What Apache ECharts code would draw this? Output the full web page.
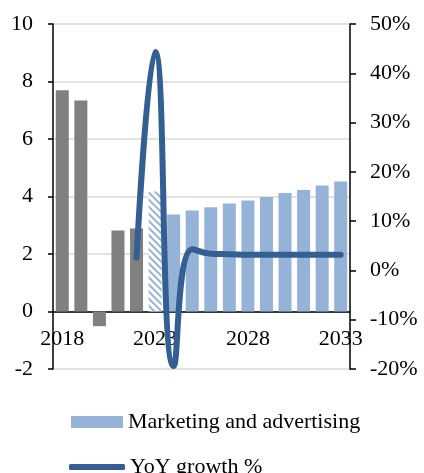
<!DOCTYPE html>
<html><head><meta charset="utf-8">
<script src="https://cdn.jsdelivr.net/npm/echarts@6/dist/echarts.min.js"></script>
<style>html,body{margin:0;padding:0;background:#fff}#c{width:424px;height:473px}</style>
</head><body><div id="c"></div>
<script>
var years = ['2018','2019','2020','2021','2022','2023','2024','2025','2026','2027','2028','2029','2030','2031','2032','2033'];
var marketing = [7.70, 7.34, -0.51, 2.82, 2.89, 4.17, 3.37, 3.51, 3.63, 3.76, 3.86, 3.98, 4.12, 4.23, 4.38, 4.52];
var yoyGrowth = [null, null, null, null, 2.6, 44.3, -19.4, 4.3, 3.4, 3.3, 3.2, 3.2, 3.2, 3.2, 3.2, 3.2];
var historicalCount = 5;   // grey bars
var hatchedIndex = 5;      // estimate year

var FONT = 'Liberation Serif';
var BLUE = '#95B3D7', GREY = '#808080', LINE = '#335F92';

var barData = marketing.map(function (v, i) {
  if (i < historicalCount) return { value: v, itemStyle: { color: GREY } };
  if (i === hatchedIndex) return { value: v, itemStyle: { color: '#ffffff',
    decal: { symbol: 'rect', symbolSize: 1, dashArrayX: [1, 0], dashArrayY: [2, 2.5], rotation: Math.PI / 4, color: BLUE } } };
  return v;
});

var chart = echarts.init(document.getElementById('c'), null, { renderer: 'canvas' });
chart.setOption({
  animation: false,
  textStyle: { fontFamily: FONT },
  grid: { left: 53, right: 74, top: 24, bottom: 104, containLabel: false },
  legend: [{
    left: 66, top: 406, itemWidth: 52, itemHeight: 12, itemGap: 4,
    textStyle: { fontFamily: FONT, fontSize: 22, color: '#000' },
    data: [{ name: 'Marketing and advertising', icon: 'rect' }]
  }, {
    left: 64, top: 451, itemWidth: 56, itemHeight: 6,
    textStyle: { fontFamily: FONT, fontSize: 22, color: '#000' },
    data: [{ name: 'YoY growth %', icon: 'roundRect', itemStyle: { color: LINE } }]
  }],
  xAxis: {
    type: 'category', data: years, position: 'bottom', offset: -57,
    axisLine: { onZero: false, lineStyle: { color: '#000', width: 1.5 } },
    axisTick: { show: false },
    axisLabel: { interval: 4, fontFamily: FONT, fontSize: 22, color: '#000', margin: 16 }
  },
  yAxis: [{
    type: 'value', min: -2, max: 10, interval: 2,
    axisLine: { show: true, lineStyle: { color: '#000', width: 1.5 } },
    axisTick: { show: true, length: 5, lineStyle: { color: '#000', width: 1.5 } },
    axisLabel: { fontFamily: FONT, fontSize: 22, color: '#000', margin: 20 },
    splitLine: { show: true, lineStyle: { color: '#D9D9D9', width: 1.5 } }
  }, {
    type: 'value', min: -20, max: 50, interval: 10, position: 'right',
    axisLine: { show: true, lineStyle: { color: '#000', width: 1.5 } },
    axisTick: { show: true, length: 6, lineStyle: { color: '#000', width: 1.5 } },
    axisLabel: { fontFamily: FONT, fontSize: 22, color: '#000', margin: 20, formatter: '{value}%' },
    splitLine: { show: false }
  }],
  series: [{
    name: 'Marketing and advertising', type: 'bar', yAxisIndex: 0,
    data: barData, barWidth: 13, itemStyle: { color: BLUE }
  }, {
    name: 'YoY growth %', type: 'line', yAxisIndex: 1, data: yoyGrowth,
    smooth: 0.5, showSymbol: false, symbol: 'none',
    lineStyle: { color: LINE, width: 6, cap: 'round' }, itemStyle: { color: LINE }
  }]
});
</script></body></html>
